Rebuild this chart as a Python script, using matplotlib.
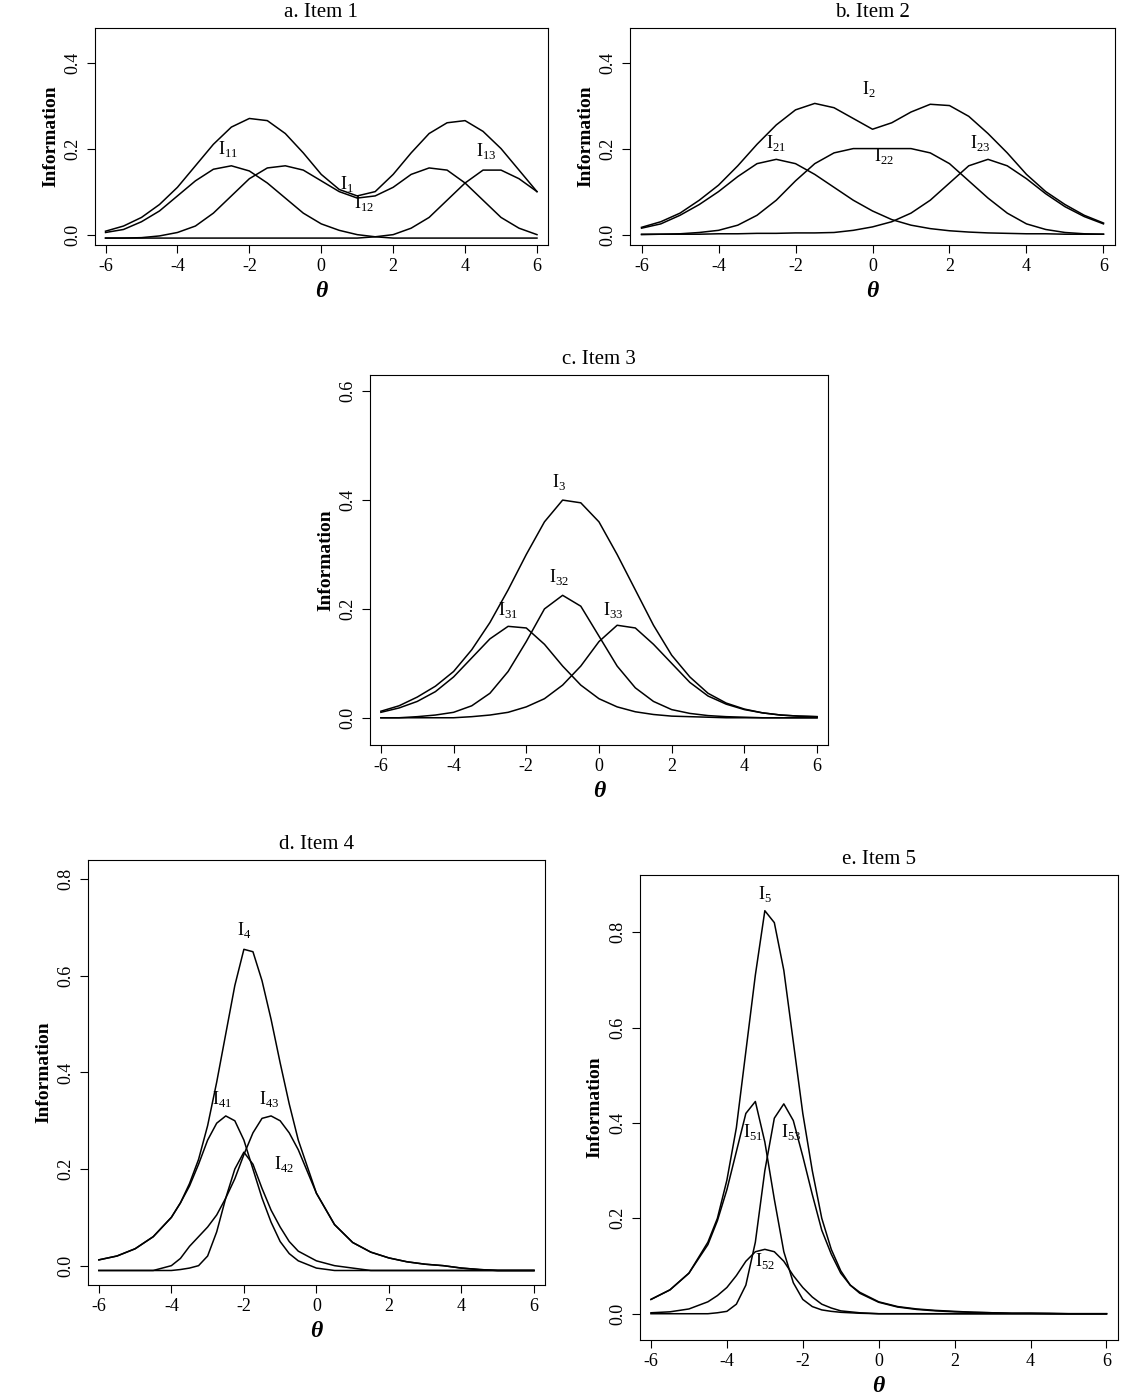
import numpy as np
import matplotlib
matplotlib.use("Agg")
import matplotlib.pyplot as plt

plt.rcParams["font.family"] = ["Liberation Serif", "DejaVu Serif"]
plt.rcParams["mathtext.fontset"] = "custom"
plt.rcParams["mathtext.rm"] = "Liberation Serif"
plt.rcParams["axes.unicode_minus"] = False

theta = np.arange(-6, 6.01, 0.5)
# finer grid around the sharp peaks of items 4 and 5
theta_fine = np.concatenate([np.arange(-6, -4.4, 0.5), np.arange(-4.25, -0.4, 0.25),
                             np.arange(0, 6.01, 0.5)])

# ---- Item 1 ----
I1 = [0.008, 0.02, 0.04, 0.07, 0.11, 0.16, 0.21, 0.25, 0.27, 0.265, 0.235, 0.19, 0.14,
      0.105, 0.09, 0.10, 0.14, 0.19, 0.235, 0.26, 0.265, 0.24, 0.20, 0.15, 0.10]
I11 = [0.005, 0.012, 0.03, 0.055, 0.09, 0.125, 0.152, 0.16, 0.148, 0.12, 0.085, 0.05, 0.025,
       0.01, 0.0, -0.005, -0.008, -0.008, -0.008, -0.008, -0.008, -0.008, -0.008, -0.008, -0.008]
I12 = [-0.008, -0.008, -0.007, -0.003, 0.005, 0.02, 0.05, 0.09, 0.13, 0.155, 0.16, 0.15, 0.125,
       0.10, 0.085, 0.09, 0.11, 0.14, 0.155, 0.15, 0.12, 0.08, 0.04, 0.015, 0.0]
I13 = [-0.008] * 15 + [-0.005, 0.0, 0.015, 0.04, 0.08, 0.12, 0.15, 0.15, 0.13, 0.10]

# ---- Item 2 ----
I2 = [0.017, 0.03, 0.05, 0.08, 0.115, 0.16, 0.21, 0.255, 0.29, 0.305, 0.295, 0.27, 0.245,
      0.26, 0.285, 0.303, 0.30, 0.275, 0.235, 0.19, 0.14, 0.10, 0.07, 0.045, 0.027]
I21 = [0.015, 0.025, 0.045, 0.07, 0.10, 0.135, 0.165, 0.175, 0.165, 0.14, 0.11, 0.08, 0.055,
       0.035, 0.022, 0.014, 0.009, 0.006, 0.004, 0.003, 0.002, 0.002, 0.001, 0.001, 0.001]
I22 = [0.0, 0.001, 0.002, 0.005, 0.01, 0.022, 0.045, 0.08, 0.125, 0.165, 0.19, 0.20, 0.20,
       0.20, 0.20, 0.19, 0.165, 0.125, 0.085, 0.05, 0.025, 0.012, 0.005, 0.002, 0.001]
I23 = [0.001, 0.001, 0.001, 0.001, 0.002, 0.002, 0.003, 0.003, 0.004, 0.004, 0.005, 0.01, 0.018,
       0.03, 0.05, 0.08, 0.12, 0.16, 0.175, 0.16, 0.13, 0.095, 0.065, 0.042, 0.025]

# ---- Item 3 ----
I3 = [0.012, 0.022, 0.038, 0.058, 0.085, 0.125, 0.175, 0.235, 0.30, 0.36, 0.40, 0.395, 0.36,
      0.30, 0.235, 0.17, 0.115, 0.075, 0.045, 0.027, 0.016, 0.009, 0.005, 0.003, 0.002]
I31 = [0.01, 0.018, 0.03, 0.048, 0.075, 0.11, 0.145, 0.168, 0.165, 0.135, 0.095, 0.06, 0.035,
       0.02, 0.011, 0.006, 0.003, 0.002, 0.001, 0.0, 0.0, 0.0, 0.0, 0.0, 0.0]
I32 = [0.0, 0.0, 0.002, 0.005, 0.01, 0.022, 0.045, 0.085, 0.14, 0.20, 0.225, 0.205, 0.15,
       0.095, 0.055, 0.03, 0.015, 0.008, 0.004, 0.002, 0.001, 0.0, 0.0, 0.0, 0.0]
I33 = [0.0, 0.0, 0.0, 0.0, 0.0, 0.002, 0.005, 0.01, 0.02, 0.035, 0.06, 0.095, 0.14,
       0.17, 0.165, 0.135, 0.10, 0.065, 0.04, 0.025, 0.015, 0.009, 0.005, 0.003, 0.002]

# ---- Item 4 (theta_fine) ----
I4 = [0.012, 0.02, 0.035, 0.06,
      0.08, 0.10, 0.13, 0.17, 0.22, 0.29, 0.38, 0.48, 0.58, 0.655, 0.65, 0.59, 0.51, 0.42, 0.335, 0.26,
      0.15, 0.085, 0.048, 0.028, 0.016, 0.008, 0.003, 0.0, -0.005, -0.008, -0.01, -0.01, -0.01]
I41 = [0.012, 0.02, 0.035, 0.06,
       0.08, 0.10, 0.13, 0.165, 0.21, 0.26, 0.295, 0.31, 0.30, 0.26, 0.20, 0.14, 0.09, 0.05, 0.025, 0.01,
       -0.005] + [-0.01] * 12
I42 = [-0.01, -0.01, -0.01, -0.01,
       -0.01, -0.01, -0.008, -0.005, 0.0, 0.02, 0.07, 0.14, 0.20, 0.235, 0.21, 0.16, 0.115, 0.08, 0.05, 0.03,
       0.01, 0.0, -0.005] + [-0.01] * 10
I43 = [-0.01, -0.01, -0.01, -0.01,
       -0.005, 0.0, 0.015, 0.04, 0.06, 0.08, 0.105, 0.14, 0.18, 0.23, 0.275, 0.305, 0.31, 0.30, 0.275, 0.24,
       0.15, 0.085, 0.048, 0.028, 0.016, 0.008, 0.003, 0.0, -0.005, -0.008, -0.01, -0.01, -0.01]

# ---- Item 5 (theta_fine) ----
I5 = [0.03, 0.05, 0.085, 0.15,
      0.20, 0.28, 0.39, 0.55, 0.71, 0.845, 0.82, 0.72, 0.57, 0.42, 0.30, 0.20, 0.135, 0.09, 0.06, 0.045,
      0.025, 0.015, 0.01, 0.007, 0.005, 0.003, 0.002, 0.001, 0.001, 0.001, 0.0, 0.0, 0.0]
I51 = [0.03, 0.05, 0.085, 0.145,
       0.195, 0.26, 0.34, 0.42, 0.445, 0.36, 0.24, 0.13, 0.065, 0.03, 0.015, 0.008, 0.005, 0.003, 0.002, 0.001,
       ] + [0.0] * 13
I52 = [0.002, 0.004, 0.01, 0.025,
       0.038, 0.055, 0.08, 0.11, 0.13, 0.135, 0.13, 0.11, 0.08, 0.055, 0.035, 0.02, 0.012, 0.006, 0.004, 0.002,
       ] + [0.0] * 13
I53 = [0.0, 0.0, 0.0, 0.0,
       0.002, 0.005, 0.02, 0.06, 0.15, 0.30, 0.41, 0.44, 0.405, 0.33, 0.25, 0.175, 0.125, 0.085, 0.06, 0.043,
       0.024, 0.014, 0.009, 0.006, 0.004, 0.003, 0.002, 0.001, 0.001, 0.0, 0.0, 0.0, 0.0]

panels = [
    ("a. Item 1", [0.084, 0.8249, 0.4016, 0.155], (-0.024, 0.48), [0, 0.2, 0.4], theta,
     [I1, I11, I12, I13],
     [("1", 0.7, 0.095), ("11", -2.6, 0.175), ("12", 1.2, 0.05), ("13", 4.6, 0.172)]),
    ("b. Item 2", [0.5585, 0.8249, 0.43, 0.155], (-0.024, 0.48), [0, 0.2, 0.4], theta,
     [I2, I21, I22, I23],
     [("2", -0.1, 0.315), ("21", -2.5, 0.19), ("22", 0.3, 0.16), ("23", 2.8, 0.19)]),
    ("c. Item 3", [0.328, 0.4675, 0.406, 0.2645], (-0.05, 0.63), [0, 0.2, 0.4, 0.6], theta,
     [I3, I31, I32, I33],
     [("3", -1.1, 0.415), ("31", -2.5, 0.18), ("32", -1.1, 0.24), ("33", 0.4, 0.18)]),
    ("d. Item 4", [0.078, 0.0815, 0.405, 0.3038], (-0.04, 0.84), [0, 0.2, 0.4, 0.6, 0.8], theta_fine,
     [I4, I41, I42, I43],
     [("4", -2.0, 0.675), ("41", -2.6, 0.325), ("42", -0.9, 0.19), ("43", -1.3, 0.325)]),
    ("e. Item 5", [0.567, 0.0422, 0.424, 0.3324], (-0.055, 0.92), [0, 0.2, 0.4, 0.6, 0.8], theta_fine,
     [I5, I51, I52, I53],
     [("5", -3.0, 0.86), ("51", -3.3, 0.36), ("52", -3.0, 0.09), ("53", -2.3, 0.36)]),
]

fig = plt.figure(figsize=(11.28, 13.99), dpi=100)
for title, pos, ylim, yticks, x, curves, labels in panels:
    ax = fig.add_axes(pos)
    for c in curves:
        ax.plot(x, c, color="black", lw=1.1)
    for sub, lx, ly in labels:
        ax.text(lx, ly, r"I$_{\mathrm{%s}}$" % sub, ha="center", va="bottom", fontsize=13)
    ax.set_xlim(-6.3, 6.3)
    ax.set_ylim(*ylim)
    ax.set_xticks([-6, -4, -2, 0, 2, 4, 6])
    ax.set_yticks(yticks)
    ax.set_yticklabels([f"{v:.1f}" for v in yticks], rotation=90, va="center")
    ax.tick_params(labelsize=13, length=6)
    ax.set_title(title, fontsize=15, pad=8)
    ax.set_ylabel("Information", fontsize=14, fontweight="bold")
    ax.set_xlabel("θ", fontsize=17, fontweight="bold", style="italic")

fig.savefig("out.png", dpi=100)
